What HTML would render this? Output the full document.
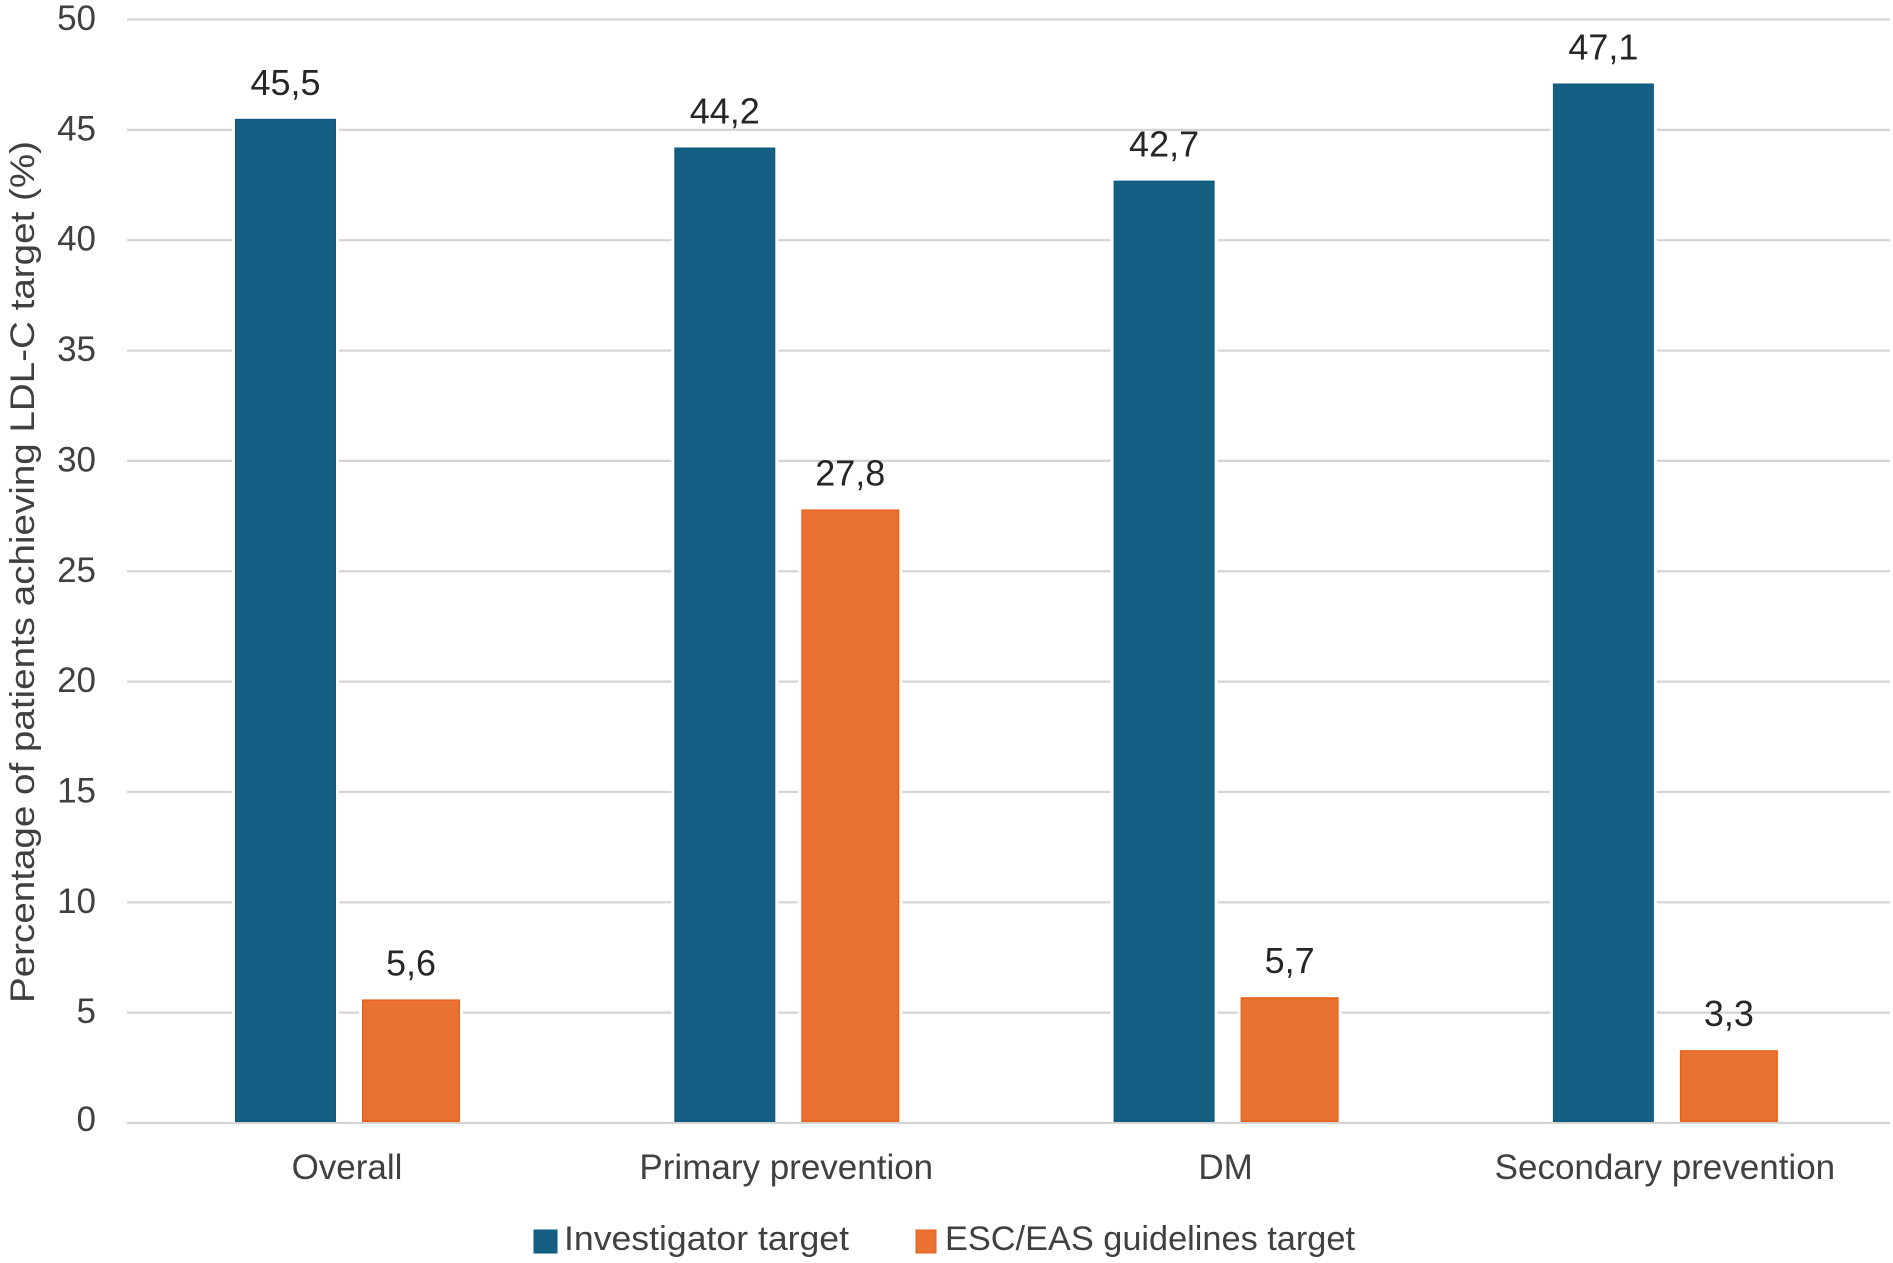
<!DOCTYPE html>
<html lang="en">
<head>
<meta charset="utf-8">
<title>LDL-C target achievement</title>
<style>
html,body{margin:0;padding:0;background:#fff;width:1893px;height:1263px;overflow:hidden}
svg{display:block}
text{font-family:"Liberation Sans",sans-serif}
</style>
</head>
<body>
<svg id="chart" xmlns="http://www.w3.org/2000/svg" width="1893" height="1263" viewBox="0 0 1893 1263">
  <rect x="0" y="0" width="1893" height="1263" fill="#ffffff"/>
  <g id="grid"></g>
  <g id="yticks"></g>
  <g id="bars"></g>
  <g id="values"></g>
  <g id="xticks"></g>
  <text transform="translate(34,572) rotate(-90)" text-anchor="middle" font-size="34" fill="#404040" textLength="862" lengthAdjust="spacingAndGlyphs">Percentage of patients achieving LDL-C target (%)</text>
  <g>
    <rect x="534" y="1230" width="23" height="23" fill="#156082" stroke="#0f5a82" stroke-width="1"/>
    <text x="564" y="1250" font-size="34" fill="#404040" textLength="285" lengthAdjust="spacingAndGlyphs">Investigator target</text>
    <rect x="916" y="1230" width="20" height="23" fill="#e97132" stroke="#e8621c" stroke-width="1"/>
    <text x="945" y="1250" font-size="34" fill="#404040" textLength="410" lengthAdjust="spacingAndGlyphs">ESC/EAS guidelines target</text>
  </g>
</svg>
<script>
const categories = ["Overall", "Primary prevention", "DM", "Secondary prevention"];
const investigatorValues = [45.5, 44.2, 42.7, 47.1];
const guidelineValues = [5.6, 27.8, 5.7, 3.3];
const yTickLabels = [0, 5, 10, 15, 20, 25, 30, 35, 40, 45, 50];

const NS = "http://www.w3.org/2000/svg";
const plotLeft = 127, plotRight = 1890, yZero = 1123, yTop = 19.5, yMax = 50;
const firstCenter = 348, categoryStep = 439.3;
const blueWidth = 101, orangeWidth = 98, barGap = 26;

function yScale(v) { return yZero - (v / yMax) * (yZero - yTop); }
function xCenter(i) { return firstCenter + i * categoryStep; }
function formatValue(v) { return v.toFixed(1).replace(".", ","); }
function make(tag, attrs, parent, content) {
  const el = document.createElementNS(NS, tag);
  for (const k in attrs) el.setAttribute(k, attrs[k]);
  if (content !== undefined) el.textContent = content;
  parent.appendChild(el);
  return el;
}

const gridG = document.getElementById("grid");
const yticksG = document.getElementById("yticks");
const barsG = document.getElementById("bars");
const valuesG = document.getElementById("values");
const xticksG = document.getElementById("xticks");

yTickLabels.forEach(function (t) {
  const y = yScale(t);
  const line = make("line", {x1: plotLeft, x2: plotRight, y1: y, y2: y, stroke: "#d4d4d4", "stroke-width": 2.2}, gridG);
  
  
  const label = make("text", {x: 96, y: y + (t === 0 ? 8 : 10.5), "text-anchor": "end", "font-size": 35, fill: "#404040"}, yticksG, String(t));
  
  
});

function drawBar(value, x, width, fill, stroke, seriesName, i) {
  const top = yScale(value);
  const h = yZero - 1 - top;
  const halo = make("rect", {x: x - 3, y: top - 3, width: width + 6, height: h + 3, fill: "#ffffff"}, barsG);
  
  
  const bar = make("rect", {x: x + 0.75, y: top + 0.75, width: width - 1.5, height: h - 1.5, fill: fill, stroke: stroke, "stroke-width": 1.5}, barsG);
  
  
  const text = make("text", {x: x + width / 2, y: top - 24, "text-anchor": "middle", "font-size": 36, fill: "#262626"}, valuesG, formatValue(value));
  
  
}

categories.forEach(function (name, i) {
  const c = xCenter(i);
  const groupWidth = blueWidth + barGap + 99;
  const blueX = c - groupWidth / 2;
  const orangeX = blueX + blueWidth + barGap;
  drawBar(investigatorValues[i], blueX, blueWidth, "#156082", "#0f5a82", "investigator", i);
  drawBar(guidelineValues[i], orangeX, orangeWidth, "#e97132", "#e8621c", "guideline", i);
  const label = make("text", {x: c - 1, y: 1179, "text-anchor": "middle", "font-size": 35, fill: "#404040"}, xticksG, name);
  
  
});
</script>
</body>
</html>
